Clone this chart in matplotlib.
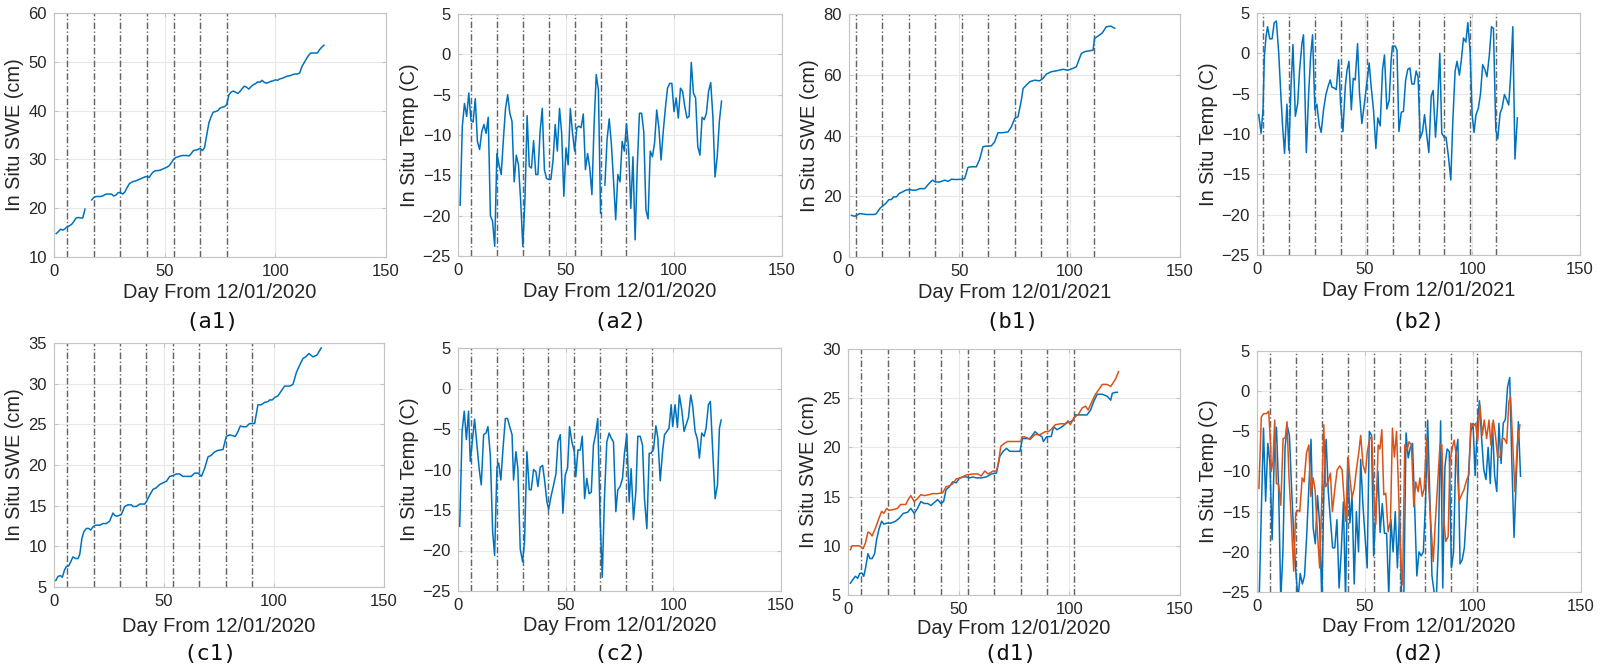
import numpy as np
import matplotlib
matplotlib.use("Agg")
import matplotlib.pyplot as plt

nan = np.nan

# ---------------- data ----------------
a1_swe = [14.8, 15.2, 15.7, 15.5, 15.8, 16.2, 16.4, 16.7, 17.3, 18.0, 18.1, 18.0, 18.0, 19.8, nan, nan,
          21.7, 22.2, 22.4, 22.4, 22.4, 22.5, 22.8, 22.9, 22.9, 22.9, 22.5, 22.7, 23.2, 23.2, 22.9, 23.3,
          24.2, 25.0, 25.3, 25.5, 25.6, 25.8, 26.0, 26.2, 26.4, 26.5, 26.3, 27.0, 27.5, 27.7, 27.7, 27.8,
          28.0, 28.2, 28.4, 28.7, 29.3, 30.0, 30.4, 30.5, 30.7, 30.8, 30.8, 30.8, 30.7, 31.2, 31.8, 31.9,
          32.0, 32.3, 31.8, 32.4, 35.0, 37.5, 38.8, 39.7, 39.8, 40.0, 40.5, 40.7, 40.8, 41.2, 43.2, 43.8,
          44.0, 43.8, 43.5, 43.9, 44.5, 45.0, 44.8, 44.4, 44.9, 45.3, 45.5, 45.9, 45.8, 46.2, 45.8, 45.6,
          45.8, 46.0, 46.1, 46.3, 46.2, 46.5, 46.6, 46.8, 47.0, 47.1, 47.2, 47.4, 47.5, 47.5, 47.7, 49.0,
          49.8, 50.6, 51.3, 51.8, 51.8, 51.8, 51.8, 52.5, 53.0, 53.4]

a2_temp = [-18.7, -8.9, -6.1, -7.7, -4.8, -8.2, -8.4, -5.5, -10.8, -11.8, -9.6, -8.7, -9.8, -7.8, -20.0,
           -20.7, -23.8, -12.3, -13.7, -14.9, -10.6, -6.7, -5.0, -7.3, -8.3, -15.8, -12.5, -13.7, -18.1,
           -23.8, -18.0, -7.6, -13.9, -14.1, -10.7, -14.9, -14.9, -9.6, -6.7, -14.3, -15.4, -15.5, -15.5,
           -13.1, -8.7, -12.0, -6.7, -9.8, -17.6, -11.6, -13.7, -6.7, -9.7, -12.0, -9.1, -8.9, -9.1, -7.4,
           -14.3, -12.3, -14.1, -17.4, -8.7, -2.5, -4.4, -19.7, nan, -16.2, -10.6, -8.0, -11.1, -15.6,
           -20.5, -14.9, -15.8, -10.8, -12.0, -8.6, -11.8, -19.1, -12.7, -23.0, -13.9, -7.3, -7.3, -9.6,
           -19.3, -20.4, -12.0, -12.7, -11.0, -6.9, -9.1, -13.1, -9.6, -6.7, -4.2, -3.6, -3.6, -7.1, -5.4,
           -7.9, -4.2, -4.6, -6.5, -7.9, -7.7, -1.0, -4.8, -5.4, -11.4, -12.5, -7.8, -8.1, -7.3, -4.6,
           -3.5, -7.7, -15.2, -12.7, -8.3, -5.8]

b1_day = [1.1, 2.6, 4.8, 7.9, 11.6, 12.4, 13.9, 15.1, 16.6, 18.1, 19.2, 20.2, 21.5, 22.7, 24.2, 25.7,
          27.2, 29.0, 30.5, 32.0, 34.3, 35.8, 37.8, 39.1, 41.1, 43.4, 44.9, 46.4, 48.6, 50.9, 52.4, 53.9,
          55.4, 57.7, 59.2, 60.7, 62.2, 64.5, 66.0, 67.5, 69.5, 72.1, 73.6, 75.1, 76.6, 78.1, 78.9, 80.4,
          81.9, 84.1, 86.4, 87.9, 89.4, 91.7, 94.0, 97.0, 99.2, 101.5, 103.0, 105.3, 106.8, 109.1, 110.6,
          111.3, 112.8, 114.8, 116.6, 118.6, 120.4]
b1_swe = [13.7, 13.4, 14.3, 14.0, 14.0, 14.3, 15.9, 16.7, 17.6, 18.9, 18.9, 19.8, 19.8, 20.9, 21.4, 22.0,
          22.2, 22.0, 22.0, 22.5, 22.5, 23.8, 25.3, 24.7, 24.7, 25.3, 24.9, 25.6, 25.5, 25.6, 25.8, 29.5,
          29.7, 29.7, 32.1, 36.3, 36.5, 36.6, 37.9, 40.9, 40.9, 41.2, 42.9, 45.6, 46.2, 51.6, 55.5, 56.6,
          57.7, 58.2, 58.0, 58.8, 60.2, 61.0, 61.3, 61.8, 61.5, 62.1, 62.6, 67.0, 67.6, 67.9, 68.1, 72.0,
          72.7, 73.8, 75.8, 76.0, 75.3]

b2_day = [0.8, 1.9, 2.8, 3.4, 4.2, 4.9, 5.9, 7.0, 8.0, 9.0, 10.1, 11.1, 11.9, 12.8, 13.9, 14.8, 15.8,
          16.7, 17.8, 18.9, 19.8, 20.9, 21.6, 22.9, 24.0, 24.9, 25.8, 26.9, 27.8, 28.9, 29.8, 30.9, 32.0,
          32.9, 34.0, 34.8, 35.9, 36.8, 37.9, 38.8, 39.9, 41.0, 41.8, 42.7, 43.8, 44.7, 45.6, 46.7, 47.6,
          48.7, 49.8, 51.0, 52.1, 53.0, 54.1, 55.2, 56.1, 57.2, 58.3, 59.2, 60.3, 61.4, 62.3, 62.9, 64.2,
          65.0, 65.9, 67.0, 68.0, 69.0, 70.0, 71.0, 71.9, 73.0, 73.9, 74.8, 75.8, 76.9, 77.8, 78.9, 79.8,
          80.9, 81.8, 82.9, 83.8, 84.9, 85.8, 86.9, 87.8, 88.9, 90.0, 90.9, 92.0, 92.9, 94.0, 94.9, 95.9,
          97.0, 97.9, 99.0, 99.9, 100.8, 101.7, 102.8, 103.8, 104.8, 105.8, 106.8, 107.9, 108.9, 109.8,
          110.9, 111.8, 112.9, 113.8, 114.9, 116.0, 116.9, 117.8, 118.8, 119.8, 120.9]
b2_temp = [-7.6, -9.9, -7.0, -0.4, 2.1, 3.3, 1.8, 1.8, 3.8, 4.0, 0.0, -5.3, -9.1, -12.4, -6.3, -12.0,
           -4.1, 1.1, -7.8, -6.2, -2.0, 1.3, 2.3, -12.3, -4.9, -0.4, 2.3, -7.0, -6.3, -8.9, -9.8, -7.0,
           -5.1, -4.2, -3.3, -4.2, -4.3, -4.5, -0.8, -6.2, -9.7, -4.1, -2.1, -1.0, -7.0, -3.1, -3.3, 1.2,
           -4.9, -8.7, -6.4, -3.7, -1.2, -4.1, -7.0, -11.8, -8.0, -9.0, -2.0, -0.2, -6.9, -5.8, -0.8, 0.9,
           0.9, 0.4, -9.7, -7.3, -7.2, -3.4, -2.0, -1.8, -3.8, -3.8, -2.2, -2.9, -10.5, -9.7, -7.6, -10.3,
           -12.3, -5.3, -4.6, -10.4, -6.7, 0.0, -9.9, -10.4, -10.4, -12.8, -15.7, -8.7, -2.2, -1.0, -2.7,
           -0.8, 1.9, 1.4, 3.8, 0.2, -7.6, -9.8, -7.6, -6.8, -5.0, -1.4, -2.0, -2.9, -0.2, 3.3, 3.1, -9.5,
           -10.6, -7.4, -6.8, -5.1, -5.8, -6.4, -2.7, 3.3, -13.1, -8.0]

c1_day = [0.8, 1.8, 2.9, 3.8, 4.8, 5.6, 6.7, 7.6, 8.6, 9.8, 10.9, 11.7, 12.7, 13.6, 14.7, 15.8, 16.7,
          17.7, 18.9, 20.8, 22.3, 23.8, 25.3, 26.8, 27.6, 28.6, 30.6, 32.1, 33.6, 35.2, 35.9, 37.4, 39.0,
          41.2, 42.0, 43.5, 45.0, 46.5, 48.0, 49.5, 51.1, 52.6, 54.1, 55.6, 57.1, 58.6, 60.2, 62.4, 63.9,
          65.5, 67.0, 68.5, 70.0, 71.5, 73.0, 74.5, 76.8, 78.3, 79.8, 81.4, 82.4, 83.6, 84.7, 85.9, 87.4,
          88.9, 91.2, 92.7, 94.2, 95.8, 97.3, 98.0, 99.2, 100.3, 101.8, 103.3, 104.8, 107.1, 108.6, 110.2,
          111.7, 113.2, 114.4, 115.9, 117.7, 119.5, 120.8, 121.5]
c1_swe = [5.8, 6.3, 6.4, 6.2, 7.1, 7.5, 7.6, 8.1, 8.7, 8.5, 8.5, 9.0, 11.0, 11.8, 12.2, 12.2, 12.0, 12.4,
          12.6, 12.6, 12.8, 12.8, 13.1, 14.1, 13.8, 13.7, 13.9, 14.9, 15.1, 15.1, 14.9, 14.9, 15.2, 15.2,
          15.5, 16.3, 17.0, 17.2, 17.6, 17.8, 18.0, 18.6, 18.7, 18.9, 18.9, 18.6, 18.6, 18.6, 19.0, 19.0,
          18.6, 19.6, 21.0, 21.2, 21.6, 21.8, 21.9, 23.5, 23.7, 23.6, 23.5, 24.1, 24.8, 24.7, 24.7, 25.1,
          25.1, 27.4, 27.4, 27.7, 27.8, 28.0, 28.0, 28.3, 28.5, 29.1, 29.7, 29.7, 29.9, 31.4, 32.3, 33.1,
          33.3, 33.7, 33.3, 33.5, 34.1, 34.4]

c2_day = [0.8, 1.9, 2.9, 3.9, 4.9, 5.7, 6.8, 7.7, 8.8, 9.9, 10.8, 11.9, 13.0, 13.9, 15.0, 16.1, 17.0,
          18.1, 18.9, 19.9, 20.9, 22.0, 23.0, 24.0, 25.1, 25.8, 26.9, 27.8, 28.9, 30.0, 30.9, 32.0, 33.1,
          34.0, 35.1, 36.2, 37.1, 38.2, 39.3, 40.2, 41.3, 42.1, 43.3, 44.4, 45.5, 46.4, 47.5, 48.7, 49.8,
          50.9, 51.8, 52.9, 54.0, 54.7, 55.7, 56.8, 57.7, 58.8, 59.8, 60.9, 61.9, 62.9, 64.0, 64.9, 66.0,
          67.0, 68.0, 69.1, 70.2, 71.1, 72.2, 73.3, 74.2, 75.3, 76.4, 77.3, 78.4, 79.5, 80.4, 81.5, 82.6,
          83.5, 84.6, 85.7, 86.6, 87.7, 88.8, 89.7, 90.8, 91.9, 92.8, 93.9, 95.0, 95.9, 97.0, 98.0, 99.0,
          99.7, 100.8, 101.9, 102.8, 103.9, 105.0, 105.9, 107.0, 108.1, 109.0, 110.1, 111.2, 112.1, 113.2,
          114.3, 115.2, 116.3, 117.2, 118.3, 119.4, 120.5, 121.4, 122.2]
c2_temp = [-17.0, -5.3, -2.8, -6.3, -2.8, -9.0, -6.1, -3.8, -7.0, -10.1, -11.9, -5.7, -5.5, -4.7, -8.2,
           -17.7, -20.6, -9.7, -9.2, -11.3, -7.4, -3.7, -3.7, -4.7, -5.7, -11.3, -7.8, -9.9, -19.8, -21.4,
           -18.9, -7.8, -12.5, -12.5, -10.0, -10.3, -12.1, -9.7, -9.5, -11.3, -14.0, -14.9, -13.2, -11.9,
           -10.5, -6.6, -5.7, -15.4, -10.7, -9.8, -4.7, -6.6, -7.8, -10.9, -7.6, -7.6, -5.9, -13.6, -11.1,
           -13.0, -12.8, -7.0, -5.5, -3.7, -16.1, -23.3, -13.6, -6.6, -5.5, -6.1, -6.6, -15.2, -12.5,
           -12.1, -11.1, -8.0, -5.7, -14.0, -9.9, -16.2, -12.7, -5.9, -5.9, -7.0, -13.6, -17.3, -8.0, -8.0,
           -7.5, -4.6, -6.1, -11.4, -7.8, -5.7, -5.3, -4.9, -2.0, -4.7, -2.0, -4.8, -0.8, -2.6, -5.3, -4.5,
           -3.6, -0.8, -2.2, -5.3, -6.3, -8.6, -5.5, -5.9, -4.9, -2.0, -1.6, -7.8, -13.6, -11.9, -4.9,
           -3.9]

d1_day_a = [1.1, 2.3, 3.3, 4.4, 5.3, 6.4, 7.1, 7.9, 9.0, 9.9, 10.9, 12.0, 12.9, 14.0, 15.2, 16.2, 17.5,
            19.3, 21.5, 23.1, 25.0, 26.9, 28.4, 29.9, 31.4, 32.9, 34.4, 36.0, 37.5, 39.0, 40.5, 42.0, 43.2,
            44.3, 45.8, 47.3, 48.9, 50.4, 51.9, 53.4, 54.9, 56.4, 58.0, 60.2, 62.5, 64.8, 67.1, 68.6, 70.1,
            71.6, 73.1, 75.4, 77.7, 78.8, 80.7, 82.2, 84.5, 86.0, 87.6, 88.3, 89.8, 91.8, 92.9, 94.4, 96.7,
            98.9, 100.5, 102.0, 102.7, 105.0, 108.0, 109.6, 111.1, 112.6, 114.9, 117.1, 118.7, 119.4,
            121.0, 121.7]
d1_swe_a = [6.2, 6.6, 6.9, 6.7, 7.2, 7.2, 6.9, 7.7, 9.2, 8.7, 8.7, 9.2, 10.6, 11.7, 12.5, 12.2, 12.3,
            12.3, 12.5, 12.8, 13.3, 13.4, 13.8, 13.3, 13.8, 14.5, 14.3, 14.3, 14.1, 14.4, 14.7, 14.3, 14.5,
            15.7, 16.0, 16.5, 16.4, 16.9, 17.0, 17.0, 16.9, 17.0, 16.9, 16.9, 17.0, 17.3, 17.4, 19.1, 19.6,
            19.9, 19.6, 19.6, 19.6, 20.9, 20.9, 20.9, 21.6, 21.3, 21.1, 20.6, 21.1, 21.1, 22.1, 21.8, 22.1,
            22.5, 22.6, 22.8, 23.3, 23.3, 23.3, 23.8, 24.7, 25.4, 25.4, 25.2, 24.8, 25.5, 25.6, 25.6]

d1_day_b = [1.1, 1.8, 3.3, 4.9, 5.9, 6.8, 7.9, 9.0, 9.9, 10.9, 12.4, 14.0, 15.2, 16.2, 17.5, 18.5, 20.8,
            22.3, 23.8, 26.1, 27.2, 28.4, 29.9, 31.4, 32.9, 34.4, 36.7, 38.2, 40.5, 42.8, 44.3, 45.8, 47.3,
            48.9, 51.1, 53.4, 56.4, 58.7, 60.2, 61.8, 63.3, 65.6, 67.1, 68.1, 69.0, 70.6, 72.1, 73.9, 76.2,
            78.1, 78.8, 80.7, 82.2, 84.5, 86.8, 89.1, 90.6, 92.1, 93.6, 96.0, 98.2, 99.4, 100.5, 102.0,
            104.2, 105.8, 107.3, 108.5, 110.3, 111.8, 113.4, 114.9, 117.1, 118.7, 119.9, 121.0, 122.2]
d1_swe_b = [9.6, 10.0, 10.0, 10.0, 9.9, 9.7, 10.3, 11.4, 11.3, 11.0, 11.8, 12.8, 13.5, 13.3, 13.8, 13.6,
            13.7, 13.8, 14.2, 14.2, 14.7, 15.1, 14.5, 14.8, 15.2, 15.1, 15.2, 15.3, 15.3, 15.4, 16.0, 16.1,
            16.3, 16.8, 16.9, 17.2, 17.3, 17.3, 17.1, 17.6, 17.3, 17.6, 17.6, 18.6, 20.1, 20.4, 20.6, 20.6,
            20.6, 20.6, 21.1, 21.0, 20.8, 21.3, 21.3, 21.6, 21.6, 21.9, 22.3, 22.4, 22.4, 22.7, 22.3, 23.0,
            23.4, 24.0, 24.2, 23.8, 24.7, 25.4, 25.9, 26.4, 26.4, 26.2, 26.6, 27.0, 27.7]

d2_temp_a = [-26.0, -15.0, -4.6, -13.7, -6.5, -9.0, -18.5, -8.0, -4.5, -12.0, -26.0, -20.0, -7.0, -4.3,
             -5.5, -12.0, -18.0, -22.5, -26.0, -22.7, -24.0, -23.0, -18.0, -12.0, -6.0, -17.0, -19.0,
             -13.0, -16.5, -26.0, -12.0, -6.0, -12.5, -16.0, -19.5, -19.5, -16.0, -24.5, -20.0, -13.8,
             -26.0, -8.3, -16.4, -13.0, -24.0, -15.0, -20.0, -8.5, -14.0, -18.0, -22.0, -5.0, -5.5, -20.5,
             -15.0, -10.0, -17.6, -14.0, -17.7, -17.7, -25.5, -16.0, -20.0, -15.0, -22.0, -15.0, -26.0,
             -25.0, -5.2, -8.3, -7.0, -6.5, -14.5, -23.0, -20.0, -20.5, -20.0, -14.0, -3.6, -13.0, -23.0,
             -25.0, -26.0, -18.8, -3.7, -24.5, -9.4, -7.2, -7.5, -22.0, -20.0, -8.0, -6.0, -21.5, -21.0,
             -19.5, -15.0, -10.0, -5.0, -4.0, -10.5, -4.0, -1.2, -6.0, -9.8, -11.0, -7.0, -11.5, -4.0,
             -10.5, -12.5, -4.0, -9.0, -4.0, -3.5, 0.5, 1.7, -9.0, -18.2, -11.0, -3.8, -10.6]

d2_day_b = [0.9, 2.0, 3.1, 4.3, 5.4, 6.3, 6.6, 7.4, 8.2, 9.0, 10.0, 11.0, 12.1, 13.1, 13.9, 14.8, 15.9,
            17.0, 17.9, 19.0, 19.8, 20.9, 21.8, 22.9, 24.0, 24.9, 26.0, 26.9, 28.0, 29.0, 30.0, 30.9, 31.8,
            32.9, 34.0, 34.9, 36.0, 37.1, 38.3, 39.4, 40.3, 41.1, 42.2, 43.0, 44.0, 45.0, 46.0, 47.0, 48.0,
            49.1, 50.2, 51.1, 52.2, 53.1, 54.1, 55.0, 56.1, 56.9, 57.8, 58.7, 59.6, 60.7, 61.8, 62.7, 63.6,
            64.6, 65.5, 66.6, 67.4, 68.4, 69.5, 70.4, 71.5, 72.6, 73.5, 74.6, 75.4, 76.5, 77.4, 78.5, 79.4,
            80.5, 81.6, 82.5, 83.6, 84.7, 85.6, 86.5, 87.4, 88.5, 89.3, 90.4, 91.3, 92.4, 93.5, 94.7, 95.8,
            97.0, 98.1, 99.0, 100.1, 101.2, 102.1, 103.2, 104.3, 105.2, 106.3, 107.4, 108.3, 109.4, 110.3,
            111.4, 112.5, 113.6, 114.5, 115.6, 116.6, 117.4, 118.3, 119.4, 120.5, 121.7]
d2_temp_b = [-12.1, -3.2, -2.8, -2.8, -2.5, -6.7, -10.0, -8.8, -3.6, -11.5, -11.6, -14.2, -5.9, -5.8,
             -3.8, -10.6, -16.2, -22.4, -15.2, -14.8, -15.0, -10.8, -11.3, -7.7, -6.7, -13.1, -10.8,
             -12.3, -17.7, -22.0, -13.3, -4.2, -11.9, -11.3, -10.2, -15.0, -12.3, -9.8, -9.3, -9.8, -13.3,
             -16.2, -8.2, -10.8, -13.3, -12.1, -9.8, -7.9, -5.5, -9.2, -10.2, -7.5, -5.9, -5.7, -12.9,
             -16.6, -6.7, -7.2, -4.8, -12.9, -12.7, -17.5, -16.2, -4.6, -8.2, -5.0, -12.1, -21.6, -24.1,
             -6.7, -7.3, -6.3, -6.7, -14.4, -11.3, -12.5, -10.8, -13.1, -12.1, -5.9, -11.3, -16.6, -21.2,
             -16.6, -11.7, -6.7, -6.7, -16.2, -18.7, -18.1, -8.8, -7.1, -6.1, -8.2, -13.7, -12.9, -12.3,
             -11.1, -10.4, -4.0, -4.4, -4.0, -6.3, -1.7, -5.5, -3.6, -5.9, -3.6, -6.7, -3.6, -5.3, -8.2,
             -8.2, -5.9, -5.9, -6.5, -1.3, -0.7, -5.9, -12.5, -6.7, -4.2]

events_a = [6, 18, 30, 42, 54, 66, 78]
events_b = [3, 15, 27, 39, 51, 63, 75, 87, 99, 111]
events_c = [6, 18, 30, 42, 54, 66, 78, 90]
events_d = [6, 18, 30, 42, 54, 66, 78, 90, 102]

xticks = [0, 50, 100, 150]

# ---------------- style ----------------
BLUE = "#0072BD"
ORANGE = "#D95319"
FONT = "Liberation Sans"
plt.rcParams["font.family"] = [FONT, "DejaVu Sans"]

W, H = 1600, 668
fig = plt.figure(figsize=(W / 100, H / 100), dpi=100)


def make_ax(left, top, right, bottom):
    return fig.add_axes([left / W, 1 - bottom / H, (right - left) / W, (bottom - top) / H])


def style(ax, ylim, yticks, ylabel, xlabel, events, xpad):
    ax.set_xlim(0, 150)
    ax.set_ylim(*ylim)
    ax.set_xticks(xticks)
    ax.set_yticks(yticks)
    ax.grid(True, color="#e8e8e8", linewidth=0.8)
    ax.set_axisbelow(True)
    for s in ax.spines.values():
        s.set_color("#c4c4c4")
        s.set_linewidth(0.8)
    ax.tick_params(direction="in", length=3, color="#c4c4c4", labelcolor="#262626",
                   labelsize=12, top=True, right=True, pad=5)
    ax.set_ylabel(ylabel, fontsize=14.4, color="#262626", labelpad=3)
    ax.set_xlabel(xlabel, fontsize=14.4, color="#262626", labelpad=xpad)
    for e in events:
        ax.axvline(e, color="#666666", linestyle=(0, (4.5, 1.6, 1.0, 1.6)),
                   linewidth=1.05, zorder=1.5)


days122 = np.arange(1, 123)
TOP_PAD, BOT_PAD = 3, 2.5

# a1
ax = make_ax(54, 13, 386, 257)
style(ax, (10, 60), range(10, 61, 10), "In Situ SWE (cm)", "Day From 12/01/2020", events_a, TOP_PAD)
ax.plot(days122, a1_swe, color=BLUE, lw=1.1, zorder=3)
# a2
ax = make_ax(458, 14, 782, 256)
style(ax, (-25, 5), range(-25, 6, 5), "In Situ Temp (C)", "Day From 12/01/2020", events_a, TOP_PAD)
ax.plot(days122, a2_temp, color=BLUE, lw=1.1, zorder=3)
# b1
ax = make_ax(849, 14, 1180, 257)
style(ax, (0, 80), range(0, 81, 20), "In Situ SWE (cm)", "Day From 12/01/2021", events_b, TOP_PAD)
ax.plot(b1_day, b1_swe, color=BLUE, lw=1.1, zorder=3)
# b2
ax = make_ax(1257, 13, 1580, 255)
style(ax, (-25, 5), range(-25, 6, 5), "In Situ Temp (C)", "Day From 12/01/2021", events_b, TOP_PAD)
ax.plot(b2_day, b2_temp, color=BLUE, lw=1.1, zorder=3)
# c1
ax = make_ax(54, 343, 384, 587)
style(ax, (5, 35), range(5, 36, 5), "In Situ SWE (cm)", "Day From 12/01/2020", events_c, BOT_PAD + 3)
ax.plot(c1_day, c1_swe, color=BLUE, lw=1.1, zorder=3)
# c2
ax = make_ax(458, 348, 781, 591)
style(ax, (-25, 5), range(-25, 6, 5), "In Situ Temp (C)", "Day From 12/01/2020", events_c, BOT_PAD)
ax.plot(c2_day, c2_temp, color=BLUE, lw=1.1, zorder=3)
# d1
ax = make_ax(848, 349, 1180, 595)
style(ax, (5, 30), range(5, 31, 5), "In Situ SWE (cm)", "Day From 12/01/2020", events_d, BOT_PAD - 1)
ax.plot(d1_day_a, d1_swe_a, color=BLUE, lw=1.1, zorder=3)
ax.plot(d1_day_b, d1_swe_b, color=ORANGE, lw=1.1, zorder=3)
# d2
ax = make_ax(1257, 351, 1581, 592)
style(ax, (-25, 5), range(-25, 6, 5), "In Situ Temp (C)", "Day From 12/01/2020", events_d, BOT_PAD)
ax.plot(days122, d2_temp_a, color=BLUE, lw=1.1, zorder=3)
ax.plot(d2_day_b, d2_temp_b, color=ORANGE, lw=1.1, zorder=3)

# panel labels
labels = [("(a1)", 212, 322), ("(a2)", 620, 322), ("(b1)", 1012, 322), ("(b2)", 1418, 322),
          ("(c1)", 210, 654), ("(c2)", 620, 654), ("(d1)", 1010, 654), ("(d2)", 1418, 654)]
for t, x, y in labels:
    fig.text(x / W, 1 - y / H, t, ha="center", va="center", fontsize=16,
             family=["DejaVu Sans Mono"], color="#111111")

fig.savefig("out.png", dpi=100)
